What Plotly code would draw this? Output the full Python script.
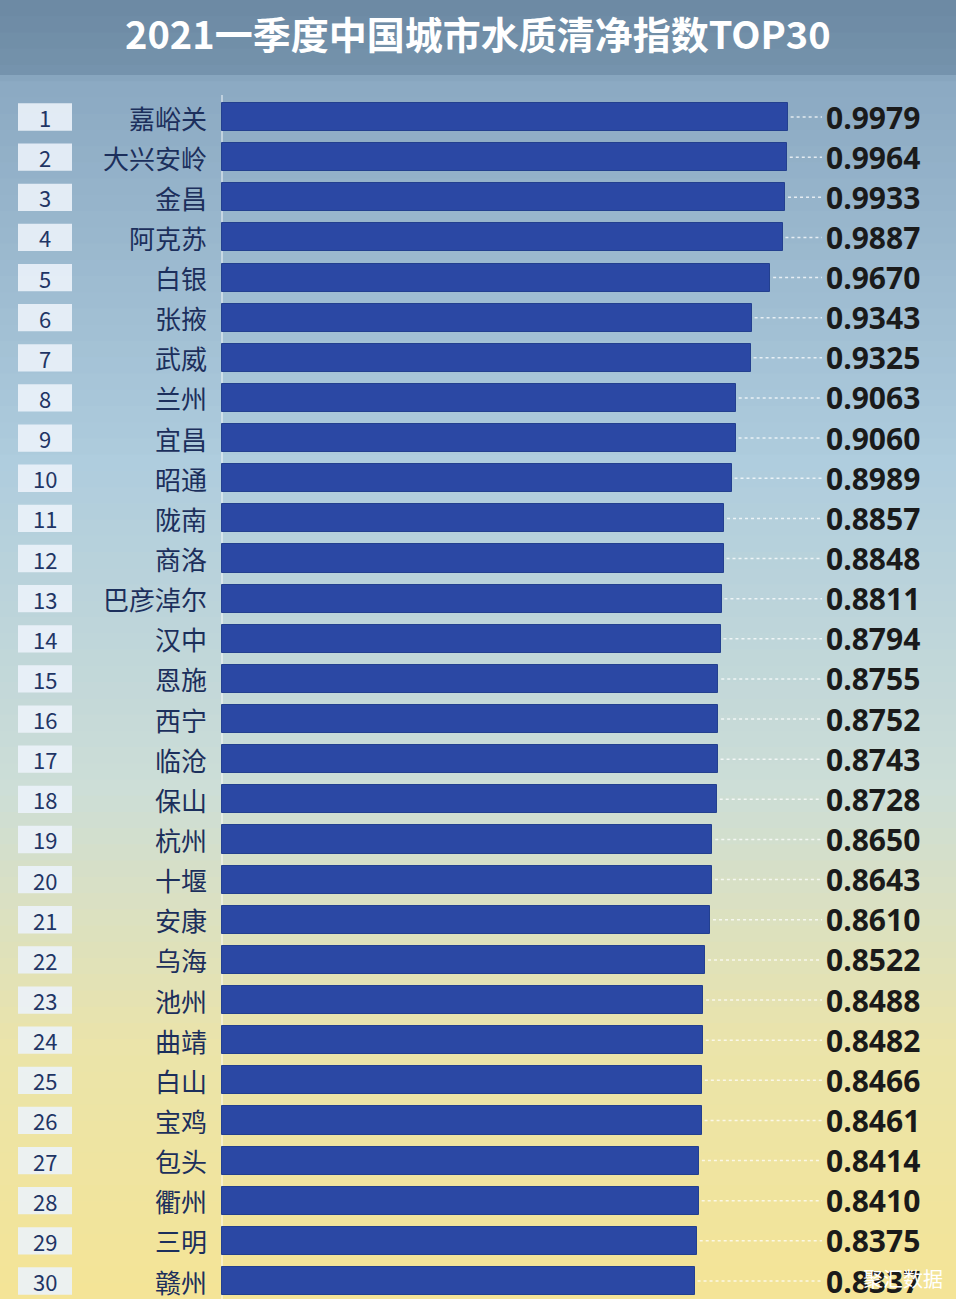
import plotly.graph_objects as go

cities = ["嘉峪关","大兴安岭","金昌","阿克苏","白银","张掖","武威","兰州","宜昌","昭通",
          "陇南","商洛","巴彦淖尔","汉中","恩施","西宁","临沧","保山","杭州","十堰",
          "安康","乌海","池州","曲靖","白山","宝鸡","包头","衢州","三明","赣州"]
values = [0.9979,0.9964,0.9933,0.9887,0.9670,0.9343,0.9325,0.9063,0.9060,0.8989,
          0.8857,0.8848,0.8811,0.8794,0.8755,0.8752,0.8743,0.8728,0.8650,0.8643,
          0.8610,0.8522,0.8488,0.8482,0.8466,0.8461,0.8414,0.8410,0.8375,0.8337]
ranks = list(range(1, 31))
value_labels = [f"{v:.4f}" for v in values]

W, H = 956, 1299
ppu = 567.0
x0px = 222
xr = [-x0px/ppu, (W-x0px)/ppu]
row0, step = 117, (1281-117)/29
yr = [1 + (H-row0)/step, 1 - row0/step]

def lerp(c1, c2, t):
    return tuple(int(a + (b-a)*t) for a, b in zip(c1, c2))

shapes = []
stops = [(0.0, (120,150,175)), (0.06, (140,170,195)), (0.35, (175,205,222)),
         (0.6, (205,222,215)), (0.8, (235,228,170)), (1.0, (245,228,150))]
N = 80
for i in range(N):
    t = i/N
    for j in range(len(stops)-1):
        if stops[j][0] <= t <= stops[j+1][0]:
            tt = (t-stops[j][0])/(stops[j+1][0]-stops[j][0])
            c = lerp(stops[j][1], stops[j+1][1], tt)
            break
    shapes.append(dict(type="rect", xref="paper", yref="paper", x0=0, x1=1,
                       y0=1-(i+1)/N-0.001, y1=1-i/N, fillcolor="rgb(%d,%d,%d)" % c,
                       line_width=0, layer="below"))
shapes.append(dict(type="rect", xref="paper", yref="paper", x0=0, x1=1, y0=1-75/H, y1=1,
                   fillcolor="rgba(95,125,150,0.45)", line_width=0, layer="below"))
shapes.append(dict(type="line", xref="paper", yref="paper", x0=x0px/W, x1=x0px/W,
                   y0=0, y1=1-95/H, line=dict(color="rgba(255,255,255,0.6)", width=1.5), layer="below"))
for r, v in zip(ranks, values):
    shapes.append(dict(type="rect", xref="paper", yref="y", x0=18/W, x1=72/W,
                       y0=r-0.34, y1=r+0.34, fillcolor="rgba(235,242,250,0.9)", line_width=0, layer="below"))
    shapes.append(dict(type="line", xref="x", yref="y", x0=v+0.005, x1=(822-x0px)/ppu,
                       y0=r, y1=r, line=dict(color="rgba(255,255,255,0.75)", width=1.5, dash="dot")))

fig = go.Figure(go.Bar(x=values, y=ranks, orientation="h", width=0.7,
                       marker=dict(color="#2b48a4", line=dict(color="#23408f", width=1))))

ann = []
for r, c, lab in zip(ranks, cities, value_labels):
    ann.append(dict(x=45/W, xref="paper", y=r, yref="y", text=str(r), showarrow=False, xanchor="center",
                    font=dict(size=22, color="#1f3565", family="Noto Sans CJK SC")))
    ann.append(dict(x=209/W, xref="paper", y=r, yref="y", text=c, showarrow=False, xanchor="right",
                    font=dict(size=26, color="#1c2f5c", family="Noto Sans CJK SC")))
    ann.append(dict(x=824/W, xref="paper", y=r, yref="y", text="<b>"+lab+"</b>", showarrow=False,
                    xanchor="left", font=dict(size=30, color="#1a1a1a", family="Open Sans")))
ann.append(dict(x=0.5, xref="paper", y=1-33/H, yref="paper", showarrow=False,
                xanchor="center", yanchor="middle",
                text="<b>2021一季度中国城市水质清净指数TOP30</b>",
                font=dict(size=38, color="white", family="Noto Sans CJK SC")))
ann.append(dict(x=945/W, xref="paper", y=1-1278/H, yref="paper", showarrow=False,
                xanchor="right", yanchor="middle",
                text="聚汇数据", font=dict(size=20, color="white", family="Noto Sans CJK SC")))

fig.update_layout(width=W, height=H, margin=dict(l=0, r=0, t=0, b=0),
                  paper_bgcolor="#b0c8d8", plot_bgcolor="rgba(0,0,0,0)",
                  shapes=shapes, annotations=ann, showlegend=False,
                  xaxis=dict(range=xr, visible=False, fixedrange=True),
                  yaxis=dict(range=yr, visible=False, fixedrange=True),
                  bargap=0)
fig.write_html("out.html", config={"displayModeBar": False})
with open("out.html", encoding="utf-8") as f:
    html = f.read()
html = html.replace("<body>", '<body style="margin:0;overflow:hidden">', 1)
with open("out.html", "w", encoding="utf-8") as f:
    f.write(html)
